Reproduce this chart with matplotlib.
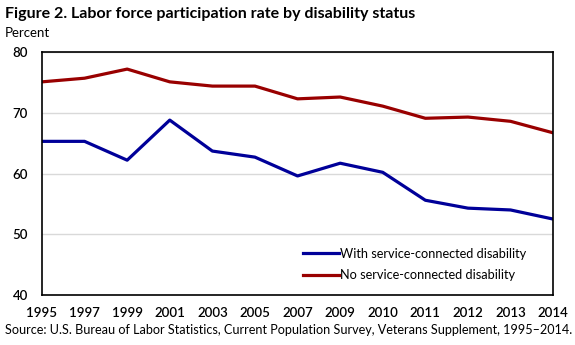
import matplotlib
matplotlib.use("Agg")
import matplotlib.pyplot as plt

# datos
years = ["1995", "1997", "1999", "2001", "2003", "2005", "2007",
         "2009", "2010", "2011", "2012", "2013", "2014"]
with_disability = [65.3, 65.3, 62.2, 68.8, 63.7, 62.7, 59.6,
                   61.7, 60.2, 55.6, 54.3, 54.0, 52.5]
no_disability = [75.1, 75.7, 77.2, 75.1, 74.4, 74.4, 72.3,
                 72.6, 71.1, 69.1, 69.3, 68.6, 66.7]

plt.rcParams["font.family"] = ["Lato", "DejaVu Sans"]

fig = plt.figure(figsize=(5.75, 3.45), dpi=100)
ax = fig.add_axes([0.073, 0.145, 0.889, 0.704])

x = list(range(len(years)))
ax.plot(x, with_disability, color="#000099", lw=2.3, label="With service-connected disability")
ax.plot(x, no_disability, color="#990000", lw=2.3, label="No service-connected disability")

ax.set_xlim(0, len(years) - 1)
ax.set_ylim(40, 80)
ax.set_xticks(x)
ax.set_xticklabels(years)
ax.set_yticks([40, 50, 60, 70, 80])
ax.tick_params(axis="x", length=0, labelsize=9.5, pad=9)
ax.tick_params(axis="y", length=0, labelsize=9.5, pad=10)
for lab in ax.get_xticklabels() + ax.get_yticklabels():
    lab.set_fontweight("semibold")
ax.grid(axis="y", color="#d9d9d9", lw=1)
ax.set_axisbelow(True)
for s in ax.spines.values():
    s.set_color("black")
    s.set_linewidth(1.2)

ax.legend(loc="lower right", bbox_to_anchor=(0.965, 0.02), frameon=False,
          fontsize=9.2, handlelength=2.8, handletextpad=0.1, borderaxespad=0.3,
          labelspacing=0.75)

fig.text(0.009, 0.958, "Figure 2. Labor force participation rate by disability status",
         fontsize=11.5, fontweight="bold", va="center")
fig.text(0.009, 0.905, "Percent", fontsize=9.5, va="center")
fig.text(0.009, 0.043,
         "Source: U.S. Bureau of Labor Statistics, Current Population Survey, Veterans Supplement, 1995\u20132014.",
         fontsize=9.1, va="center")

fig.savefig("out.png", dpi=100)
